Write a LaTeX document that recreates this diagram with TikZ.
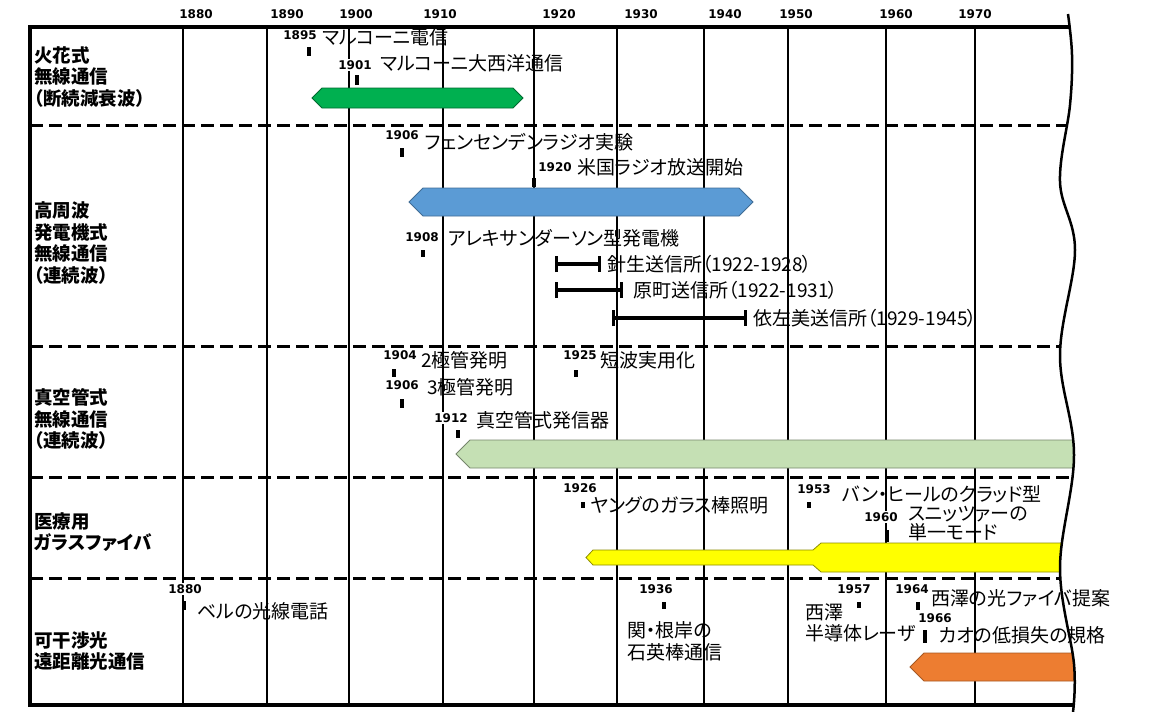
\documentclass[tikz,border=0pt]{standalone}
\usepackage{fontspec}
\setmainfont{Noto Sans CJK JP}[RawFeature=+palt]
\newfontfamily\yearfont{DejaVu Sans Bold}
\usetikzlibrary{arrows.meta,positioning,shapes.symbols}
\definecolor{sparkgreen}{HTML}{00B050}
\definecolor{altblue}{HTML}{5B9BD5}
\definecolor{tubegreen}{HTML}{C5E0B4}
\definecolor{fibreyellow}{HTML}{FFFF00}
\definecolor{laserorange}{HTML}{ED7D31}
\def \evfont {\fontsize{19}{21}\selectfont}

\begin{document}
\begin{tikzpicture}[x=1pt,y=-1pt,
    yr/.style={font=\yearfont\fontsize{12}{12}\selectfont,fill=white,inner sep=1pt},
    ev/.style={font=\evfont,inner sep=0pt,anchor=west,align=left},
    rowlab/.style={font=\bfseries\fontsize{18.5}{21.5}\selectfont,inner sep=0pt,anchor=west,align=left},
    tick/.style={line width=3.5pt},
    span/.style={line width=4pt,{Bar[width=16pt,line width=3pt]}-{Bar[width=16pt,line width=3pt]}},
    bar/.style={signal,inner sep=0pt,draw,line width=0.8pt},
    grid/.style={line width=2.5pt},
    frame/.style={line width=3.5pt},
    rowsep/.style={line width=3pt,dash pattern=on 13pt off 6pt}]
  \useasboundingbox (0,0) rectangle (1163,712);
  % decades
  \foreach \yr/\x/\lx in {1880/183/196,1890/267/287,1900/349/356,1910/443/440,1920/534/559,
      1930/617/641,1940/704/725,1950/788/796,1960/886/896,1970/975/975} {
    \draw[grid] (\x,27) -- (\x,705);
    \node[yr] (top\yr) at (\lx,14) {\yr};
  }
  % everything left of the cut
  \begin{scope}
    \clip (0,0) -- (1068,0) -- plot[smooth,tension=0.6] coordinates {(1068,14) (1072,55) (1070,105)
      (1060,182) (1075,250) (1060,355) (1074,455) (1060,568) (1074,664) (1073,712)} -- (0,712) -- cycle;
    \draw[frame] (28.25,27) -- (1100,27);
    \draw[frame] (28.25,705) -- (1100,705);
    \foreach \y in {125,346,477,578}
      \draw[rowsep] (30,\y) -- (1100,\y);
    \node[bar,signal to=west and east,fill=sparkgreen,draw=sparkgreen!60!black,
      minimum width=211pt,minimum height=20pt] (sparkbar) at (417.5,98) {};
    \node[bar,signal to=west and east,fill=altblue,draw=altblue!70!black,
      minimum width=344pt,minimum height=28pt] (altbar) at (581,202) {};
    \node[bar,signal to=west,fill=tubegreen,draw=tubegreen!60!black,
      minimum width=640pt,minimum height=28pt] (tubebar) at (783,454) {};
    \draw[fill=fibreyellow,draw=fibreyellow!55!black,line width=0.8pt] (586,557.5) -- (593,550)
      -- (813,550) -- (821,543) -- (1100,543) -- (1100,572) -- (821,572) -- (813,565)
      -- (593,565) -- cycle;
    \node[bar,signal to=west,fill=laserorange,draw=laserorange!70!black,
      minimum width=186pt,minimum height=28pt] (laserbar) at (1010,667) {};
  \end{scope}
  \draw[frame] (30,25.25) -- (30,706.75);
  \draw[line width=2.5pt] plot[smooth,tension=0.6] coordinates {(1068,14) (1072,55) (1070,105)
      (1060,182) (1075,250) (1060,355) (1074,455) (1060,568) (1074,664) (1073,712)};

  % row titles
  \node[rowlab] (spark) at (34,77) {火花式\\無線通信\\（断続減衰波）};
  \node[rowlab] (alt) at (34,243) {高周波\\発電機式\\無線通信\\（連続波）};
  \node[rowlab] (tube) at (34,419) {真空管式\\無線通信\\（連続波）};
  \node[rowlab] (fibre) at (34,532) {医療用\\ガラスファイバ};
  \node[rowlab] (optic) at (34,651) {可干渉光\\遠距離光通信};

  % ticks
  \foreach \x/\ya/\yb in {309/47/56,357/75/85,402/148/157,534/178/187,423/250/257,
      394/369/377,402/399/408,458/430/438,576/370/377,583/502/508,809/502/508,
      887/530/542,184/601/610,664/602/609,859/602/608,918/602/610,925/630/643}
    \draw[tick] (\x,\ya) -- (\x,\yb);

  % spark
  \node[yr] (y1895) at (300,35) {1895};
  \node[ev] (e1895) at (322,37) {マルコーニ電信};
  \node[yr] (y1901) at (355,65) {1901};
  \node[ev] (e1901) at (380,63) {マルコーニ大西洋通信};
  % alternator
  \node[yr] (y1906) at (402,135) {1906};
  \node[ev] (e1906) at (425,142) {フェンセンデンラジオ実験};
  \node[yr] (y1920) at (555,167) {1920};
  \node[ev] (e1920) at (577,167) {米国ラジオ放送開始};
  \node[yr] (y1908) at (422,237) {1908};
  \node[ev] (e1908) at (448,238) {アレキサンダーソン型発電機};
  \coordinate (hari0) at (555,264);
  \coordinate (hari1) at (601,264);
  \draw[span] (hari0) -- (hari1);
  \node[ev,right=6pt of hari1] (hari) {針生送信所（1922-1928）};
  \coordinate (hara0) at (555,290);
  \coordinate (hara1) at (623,290);
  \draw[span] (hara0) -- (hara1);
  \node[ev,right=10pt of hara1] (hara) {原町送信所（1922-1931）};
  \coordinate (isa0) at (612,318);
  \coordinate (isa1) at (747,318);
  \draw[span] (isa0) -- (isa1);
  \node[ev,right=6pt of isa1] (isa) {依左美送信所（1929-1945）};
  % vacuum tube
  \node[yr] (y1904) at (400,355) {1904};
  \node[ev] (e1904) at (421,360) {2極管発明};
  \node[yr] (y1906b) at (402,385) {1906};
  \node[ev] (e1906b) at (427,387) {3極管発明};
  \node[yr] (y1912) at (451,418) {1912};
  \node[ev] (e1912) at (476,420) {真空管式発信器};
  \node[yr] (y1925) at (580,355) {1925};
  \node[ev] (e1925) at (600,360) {短波実用化};
  % glass fibre
  \node[yr] (y1926) at (580,488) {1926};
  \node[ev] (e1926) at (590,505) {ヤングのガラス棒照明};
  \node[yr] (y1953) at (814,489) {1953};
  \node[ev] (e1953) at (842,494) {バン・ヒールのクラッド型};
  \node[yr] (y1960) at (881,517) {1960};
  \node[ev,font=\fontsize{19}{19}\selectfont] (e1960) at (908,524) {スニッツァーの\\単一モード};
  % optical
  \node[yr] (y1880) at (185,589) {1880};
  \node[ev] (e1880) at (197,611) {ベルの光線電話};
  \node[yr] (y1936) at (656,589) {1936};
  \node[ev,font=\fontsize{19}{22}\selectfont] (e1936) at (627,641) {関・根岸の\\石英棒通信};
  \node[yr] (y1957) at (854,589) {1957};
  \node[ev] (e1957) at (805,622.5) {西澤\\半導体レーザ};
  \node[yr] (y1964) at (912,589) {1964};
  \node[ev] (e1964) at (931,598) {西澤の光ファイバ提案};
  \node[yr] (y1966) at (935,618) {1966};
  \node[ev] (e1966) at (939,635) {カオの低損失の規格};
\end{tikzpicture}
\end{document}
